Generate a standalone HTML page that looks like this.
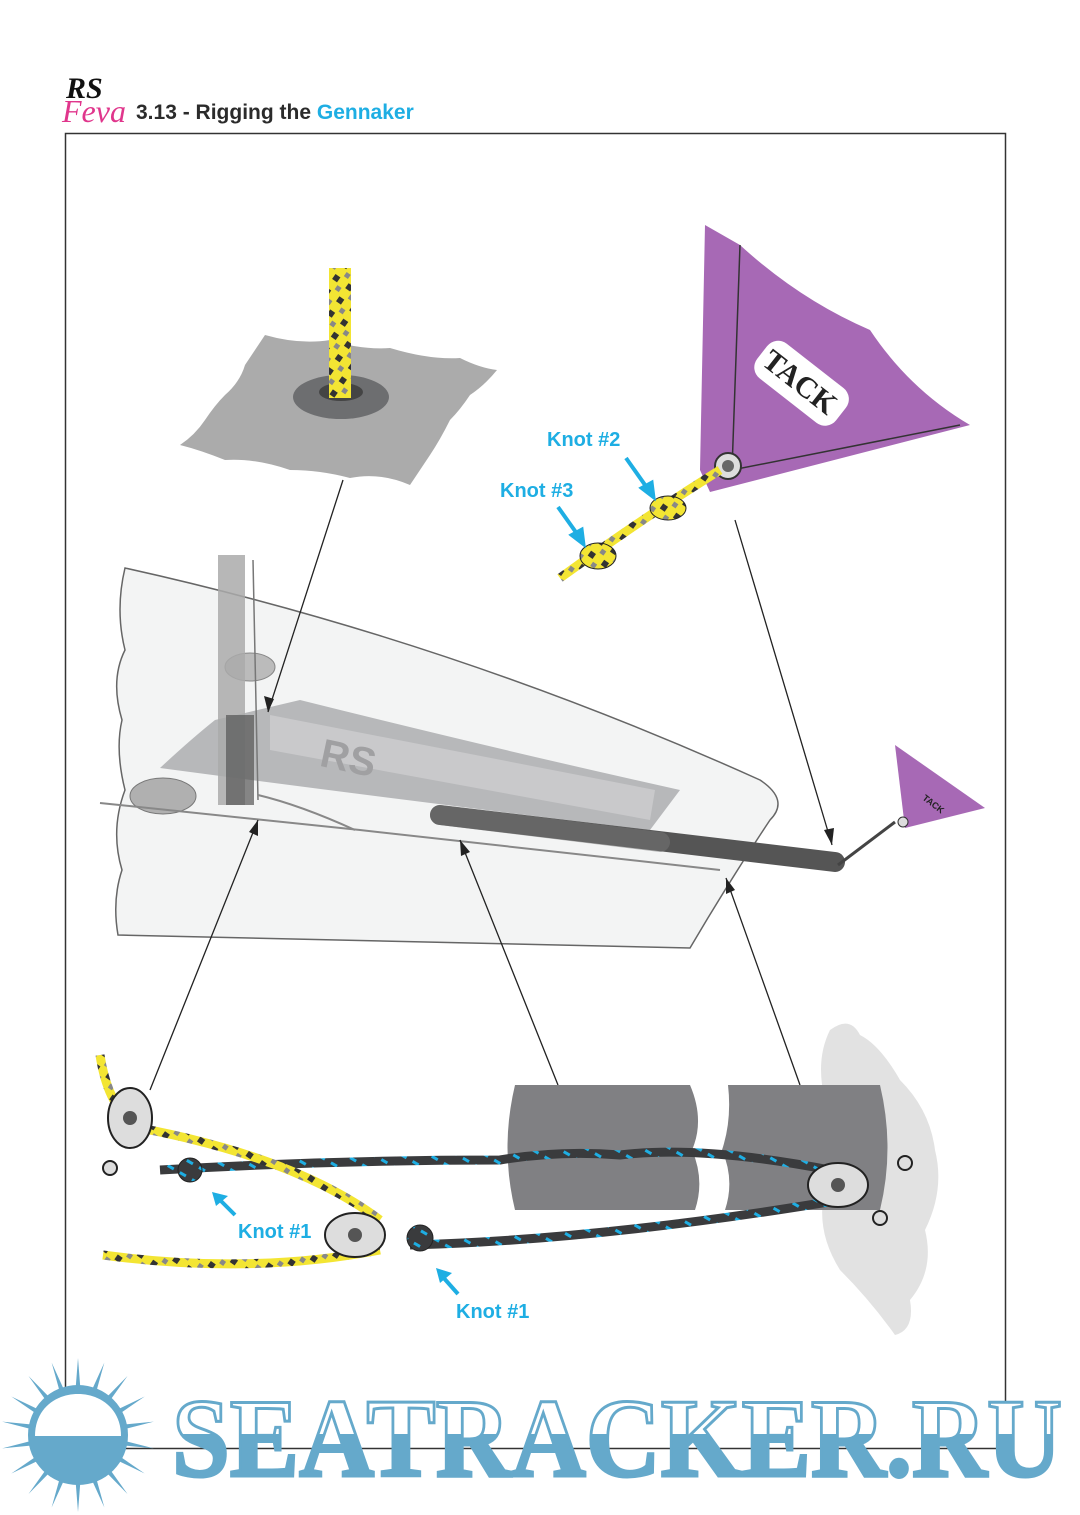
<!DOCTYPE html>
<html><head><meta charset="utf-8"><style>
html,body{margin:0;padding:0;background:#fff}
svg{display:block}
</style></head><body>
<svg width="1080" height="1515" viewBox="0 0 1080 1515" xmlns="http://www.w3.org/2000/svg" font-family="Liberation Sans, sans-serif">
<defs>
<linearGradient id="wm" x1="0" y1="0" x2="0" y2="1">
<stop offset="0.46" stop-color="#fff"/><stop offset="0.46" stop-color="#65a9cb"/>
</linearGradient>
<pattern id="yrope" width="16" height="16" patternUnits="userSpaceOnUse" patternTransform="rotate(35)">
<rect width="16" height="16" fill="#f3e533"/><rect width="6" height="6" fill="#333"/><rect x="8" y="8" width="5" height="5" fill="#888"/>
</pattern>
<pattern id="brope" width="14" height="14" patternUnits="userSpaceOnUse" patternTransform="rotate(30)">
<rect width="14" height="14" fill="#3a3b3d"/><rect width="7" height="3" fill="#1eaee3"/>
</pattern>
<polygon id="ray" points="72,1435 84,1435 78,1358" fill="#65a9cb"/>
</defs>

<!-- header -->
<text x="66" y="98" font-size="30" font-weight="bold" font-style="italic" fill="#111" font-family="Liberation Serif, serif">RS</text>
<text x="62" y="122" font-size="32" font-style="italic" fill="#e0368c" font-family="Liberation Serif, serif">Feva</text>
<text x="136" y="119" font-size="21" font-weight="bold" fill="#2b2b2b">3.13 - Rigging the <tspan fill="#1eaee3">Gennaker</tspan></text>

<rect x="65.5" y="133.5" width="940" height="1315" fill="none" stroke="#333" stroke-width="1.5"/>

<!-- top-left deck piece -->
<path d="M180,445 Q195,435 205,420 Q215,405 225,395 Q240,382 245,365 Q255,350 265,335 Q300,345 330,340 Q360,350 390,348 Q430,360 460,358 Q480,368 497,370 Q485,385 470,395 Q460,410 450,420 Q440,440 430,455 Q420,470 410,485 Q380,472 350,478 Q320,470 290,470 Q255,458 225,460 Q200,450 180,445Z" fill="#ababab"/>
<ellipse cx="341" cy="397" rx="48" ry="22" fill="#6d6e70"/>
<ellipse cx="341" cy="392" rx="22" ry="9" fill="#444"/>
<rect x="329" y="268" width="22" height="130" fill="url(#yrope)"/>

<!-- top sail -->
<path d="M705,225 L740,245 Q800,300 870,330 Q910,390 970,425 L710,492 L700,470 Z" fill="#a769b5"/>
<path d="M740,245 L732,470 L960,425" fill="none" stroke="#333" stroke-width="1.5"/>
<rect x="752" y="360" width="100" height="44" rx="14" fill="#fff" transform="rotate(38 800 382)"/>
<text x="800" y="392" font-size="30" font-weight="bold" font-family="Liberation Serif, serif" fill="#222" text-anchor="middle" transform="rotate(38 800 382)">TACK</text>
<circle cx="728" cy="466" r="13" fill="#ddd" stroke="#333" stroke-width="2"/>
<circle cx="728" cy="466" r="6" fill="#666"/>
<path d="M560,578 Q640,520 720,470" stroke="url(#yrope)" stroke-width="9" fill="none"/>
<ellipse cx="668" cy="508" rx="18" ry="12" fill="url(#yrope)" stroke="#222"/>
<ellipse cx="598" cy="556" rx="18" ry="13" fill="url(#yrope)" stroke="#222"/>
<text x="547" y="446" font-size="20" font-weight="bold" fill="#1eaee3">Knot #2</text>
<text x="500" y="497" font-size="20" font-weight="bold" fill="#1eaee3">Knot #3</text>
<path d="M626,458 L650,492" stroke="#1eaee3" stroke-width="4"/><path d="M641,488 L654,498 L652,482Z" fill="#1eaee3" stroke="#1eaee3" stroke-width="3"/>
<path d="M558,507 L580,538" stroke="#1eaee3" stroke-width="4"/><path d="M571,535 L584,545 L582,529Z" fill="#1eaee3" stroke="#1eaee3" stroke-width="3"/>

<!-- boat -->
<path d="M125,568 Q450,640 760,780 Q790,800 770,820 Q730,880 690,948 L118,935 Q112,900 122,870 Q110,830 125,790 Q115,750 122,720 Q110,680 125,650 Q115,610 125,568Z" fill="#f3f4f4" stroke="#666" stroke-width="1.5"/>
<path d="M160,768 Q190,740 215,720 L300,700 Q500,750 680,790 L650,830 Q400,800 160,768Z" fill="#a8a9ab" opacity="0.8"/>
<path d="M270,715 L655,790 L650,820 L270,750Z" fill="#c9c9cb"/>
<text x="320" y="770" font-size="40" font-weight="bold" fill="#a0a0a2" transform="rotate(12 340 760)">RS</text>
<ellipse cx="163" cy="796" rx="33" ry="18" fill="#b0b0b0" stroke="#777"/>
<ellipse cx="250" cy="667" rx="25" ry="14" fill="#bbb" stroke="#888"/>
<rect x="218" y="555" width="27" height="250" fill="#aaa" opacity="0.85"/>
<rect x="226" y="715" width="28" height="90" fill="#555" opacity="0.7"/>
<line x1="253" y1="560" x2="258" y2="800" stroke="#777" stroke-width="1.5"/>
<path d="M100,803 L360,830 L720,870" stroke="#888" stroke-width="2" fill="none"/>
<path d="M258,795 Q300,805 355,830" stroke="#888" stroke-width="2" fill="none"/>
<path d="M440,815 L835,862" stroke="#555" stroke-width="20" stroke-linecap="round"/>
<path d="M440,815 L660,842" stroke="#777" stroke-width="20" stroke-linecap="round" opacity="0.5"/>
<path d="M838,865 L895,822" stroke="#444" stroke-width="3"/>
<path d="M895,745 L985,808 L905,828 Z" fill="#a769b5"/>
<circle cx="903" cy="822" r="5" fill="#ddd" stroke="#333"/>
<text x="925" y="800" font-size="9" font-weight="bold" fill="#222" transform="rotate(38 925 795)">TACK</text>

<!-- pointer lines -->
<g stroke="#222" stroke-width="1.3">
<line x1="343" y1="480" x2="268" y2="712"/><line x1="735" y1="520" x2="832" y2="845"/>
<line x1="150" y1="1090" x2="258" y2="820"/><line x1="558" y1="1085" x2="460" y2="840"/>
<line x1="800" y1="1085" x2="726" y2="878"/>
</g>
<g fill="#222">
<path d="M268,712 L264,696 L274,699Z"/><path d="M832,845 L824,830 L834,828Z"/>
<path d="M258,820 L258,836 L249,832Z"/><path d="M460,840 L470,852 L461,856Z"/><path d="M726,878 L735,890 L726,894Z"/>
</g>

<!-- bottom assembly -->
<path d="M830,1030 Q850,1015 860,1035 Q880,1045 900,1080 Q930,1110 935,1150 Q945,1190 925,1230 Q935,1270 910,1300 Q915,1330 895,1335 Q870,1300 840,1270 Q815,1230 825,1190 Q810,1140 825,1100 Q815,1060 830,1030Z" fill="#e2e2e2"/>
<path d="M515,1085 L690,1085 Q705,1120 692,1150 Q705,1180 695,1210 L515,1210 Q500,1148 515,1085Z" fill="#808083"/>
<path d="M728,1085 L880,1085 Q895,1148 880,1210 L725,1210 Q735,1180 722,1150 Q732,1120 728,1085Z" fill="#808083"/>
<path d="M160,1170 Q330,1160 500,1160 Q560,1150 620,1155 Q700,1145 830,1170" stroke="url(#brope)" stroke-width="9" fill="none"/>
<path d="M410,1245 Q600,1240 840,1200" stroke="url(#brope)" stroke-width="9" fill="none"/>
<path d="M100,1055 Q110,1120 150,1130 Q300,1160 380,1220" stroke="url(#yrope)" stroke-width="9" fill="none"/>
<path d="M103,1255 Q250,1275 380,1250" stroke="url(#yrope)" stroke-width="9" fill="none"/>
<g fill="#ddd" stroke="#222" stroke-width="2">
<ellipse cx="130" cy="1118" rx="22" ry="30"/><ellipse cx="355" cy="1235" rx="30" ry="22"/><ellipse cx="838" cy="1185" rx="30" ry="22"/>
<circle cx="110" cy="1168" r="7"/><circle cx="905" cy="1163" r="7"/><circle cx="880" cy="1218" r="7"/>
</g>
<g fill="#555"><circle cx="130" cy="1118" r="7"/><circle cx="355" cy="1235" r="7"/><circle cx="838" cy="1185" r="7"/></g>
<circle cx="190" cy="1170" r="12" fill="url(#brope)" stroke="#222"/>
<circle cx="420" cy="1238" r="13" fill="url(#brope)" stroke="#222"/>
<text x="238" y="1238" font-size="20" font-weight="bold" fill="#1eaee3">Knot #1</text>
<text x="456" y="1318" font-size="20" font-weight="bold" fill="#1eaee3">Knot #1</text>
<path d="M235,1215 L218,1198" stroke="#1eaee3" stroke-width="4"/><path d="M212,1192 L228,1196 L216,1206Z" fill="#1eaee3"/>
<path d="M458,1294 L442,1276" stroke="#1eaee3" stroke-width="4"/><path d="M436,1268 L452,1273 L440,1283Z" fill="#1eaee3"/>

<!-- watermark -->
<g>
<use href="#ray"/>
<use href="#ray" transform="rotate(20 78 1435)"/><use href="#ray" transform="rotate(40 78 1435)"/>
<use href="#ray" transform="rotate(60 78 1435)"/><use href="#ray" transform="rotate(80 78 1435)"/>
<use href="#ray" transform="rotate(100 78 1435)"/><use href="#ray" transform="rotate(120 78 1435)"/>
<use href="#ray" transform="rotate(140 78 1435)"/><use href="#ray" transform="rotate(160 78 1435)"/>
<use href="#ray" transform="rotate(180 78 1435)"/><use href="#ray" transform="rotate(200 78 1435)"/>
<use href="#ray" transform="rotate(220 78 1435)"/><use href="#ray" transform="rotate(240 78 1435)"/>
<use href="#ray" transform="rotate(260 78 1435)"/><use href="#ray" transform="rotate(280 78 1435)"/>
<use href="#ray" transform="rotate(300 78 1435)"/><use href="#ray" transform="rotate(320 78 1435)"/>
<use href="#ray" transform="rotate(340 78 1435)"/>
<circle cx="78" cy="1435" r="50" fill="#65a9cb"/>
</g>
<path d="M35,1436 C35,1380 121,1380 121,1436 Z" fill="#fff"/>
<text x="172" y="1476" font-size="112" font-weight="bold" font-family="Liberation Serif, serif" fill="url(#wm)" stroke="#65a9cb" stroke-width="3" textLength="890" lengthAdjust="spacingAndGlyphs">SEATRACKER.RU</text>
</svg>
</body></html>
